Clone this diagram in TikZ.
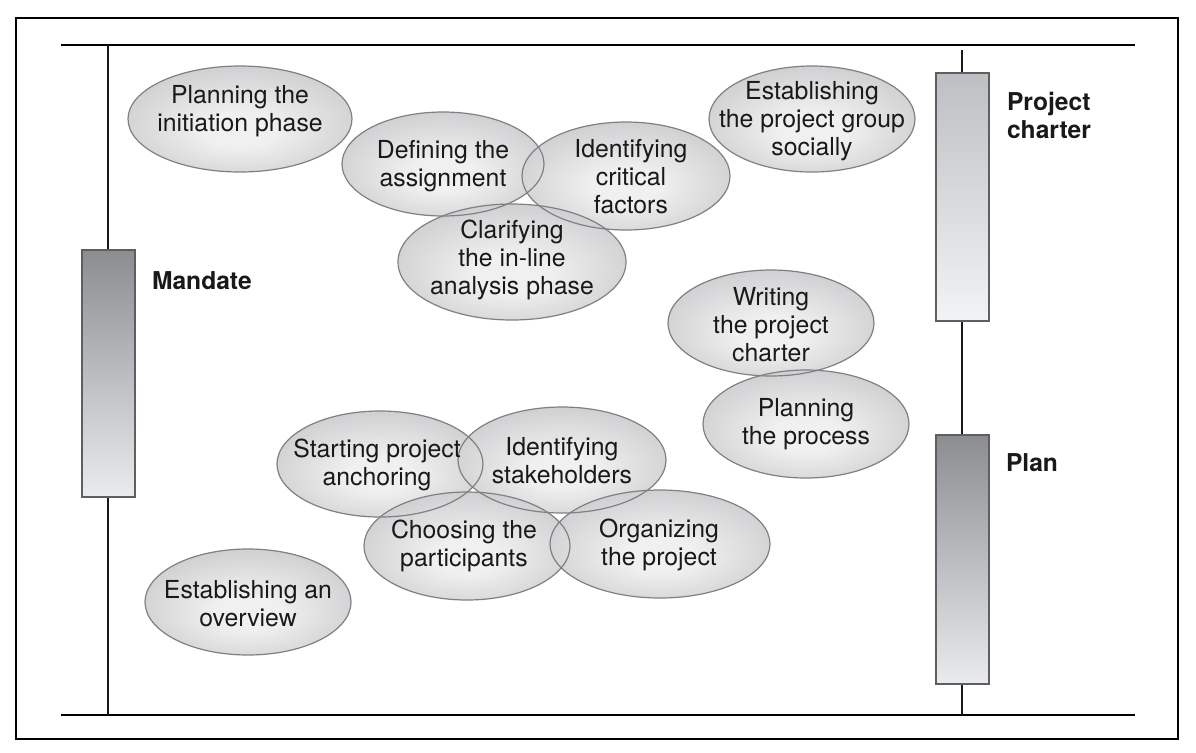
\documentclass[tikz,border=0pt]{standalone}
\usepackage{fontspec}
\setmainfont{TeX Gyre Heros}
\definecolor{BubbleIn}{RGB}{240,240,241}
\definecolor{BubbleOut}{RGB}{172,172,175}
\definecolor{RimGray}{RGB}{128,128,130}
\definecolor{BarEdge}{RGB}{95,95,97}
\definecolor{BarDark}{RGB}{140,141,145}
\definecolor{BarMid}{RGB}{190,191,194}
\definecolor{BarLight}{RGB}{234,235,237}
\definecolor{BarPale}{RGB}{242,243,245}
\definecolor{InkBlack}{RGB}{25,25,25}
\pgfdeclareradialshading{bubbleshade}{\pgfpoint{0bp}{-6bp}}{color(0bp)=(BubbleIn); color(8bp)=(BubbleIn); color(50bp)=(BubbleOut)}

\begin{document}
\begin{tikzpicture}[x=0.5pt, y=-0.5pt,
  bubble/.style={shading=bubbleshade},
  rim/.style={draw=RimGray, line width=0.6pt},
  tag/.style={align=center, text=InkBlack, font=\fontsize{12.4}{14}\selectfont},
  barlabel/.style={align=left, anchor=west, text=InkBlack, font=\fontsize{12.3}{14}\selectfont\bfseries},
  bar/.style={rectangle, draw=BarEdge, line width=1pt, minimum width=26.5pt, inner sep=0pt},
  rule/.style={draw=black, line width=1.1pt},
  stem/.style={draw=black!90, line width=0.9pt}]
\useasboundingbox (0,0) rectangle (1196,752);

\draw[line width=1pt] (16,18) rectangle (1178,739); %frame

% x/y/rx/ry of the bubbles
\def\bubblelist{240/119/112/53, 443/164/101/52, 626/176/104/54, 812/119/103/53,
  512/262/114/58, 771/323/103/53, 806/424/103/54, 380/464/103/53,
  562/460/104/53, 467/546/103/54, 660/544/110/54, 248/602/103/53}
\foreach \x/\y/\rx/\ry in \bubblelist
  \shade[bubble] (\x,\y) ellipse [x radius=\rx, y radius=\ry];
\foreach \x/\y/\rx/\ry in \bubblelist
  \draw[rim] (\x,\y) ellipse [x radius=\rx, y radius=\ry];

\node[tag] (initiation) at (240,111) {Planning the\\initiation phase};
\node[tag] (assignment) at (443,166) {Defining the\\assignment};
\node[tag] (critical) at (631,177) {Identifying\\critical\\factors};
\node[tag] (socially) at (812,121) {Establishing\\the project group\\socially};
\node[tag] (clarifying) at (512,260) {Clarifying\\the in-line\\analysis phase};
\node[tag] (writing) at (771,325) {Writing\\the project\\charter};
\node[tag] (process) at (806,424) {Planning\\the process};
\node[tag] (anchoring) at (377,465) {Starting project\\anchoring};
\node[tag] (stakeholders) at (562,461) {Identifying\\stakeholders};
\node[tag] (participants) at (464,546) {Choosing the\\participants};
\node[tag] (organizing) at (659,545) {Organizing\\the project};
\node[tag] (overview) at (248,604) {Establishing an\\overview};

% rules and stems
\coordinate (ruleTL) at (61,45);
\coordinate (ruleTR) at (1135,45);
\coordinate (ruleBL) at (61,715);
\coordinate (ruleBR) at (1135,715);
\draw[rule] (ruleTL) -- (ruleTR);
\draw[rule] (ruleBL) -- (ruleBR);

\node[bar, minimum height=123.5pt, top color=BarDark, bottom color=BarLight] (mandate) at (108,373.5) {};
\node[bar, minimum height=124pt, top color=BarMid, bottom color=BarPale] (charter) at (962,197) {};
\node[bar, minimum height=124.5pt, top color=BarDark, bottom color=BarLight] (plan) at (962,559.5) {};

\draw[stem] (108,45) -- (mandate.north);
\draw[stem] (mandate.south) -- (108,715);
\draw[stem] (962,50) -- (charter.north);
\draw[stem] (charter.south) -- (plan.north);
\draw[stem] (plan.south) -- (962,715);

\node[barlabel] (mandatetext) at (145,281) {Mandate};
\node[barlabel] (chartertext) at (1000,115) {Project\\charter};
\node[barlabel] (plantext) at (999,463) {Plan};
\end{tikzpicture}
\end{document}
